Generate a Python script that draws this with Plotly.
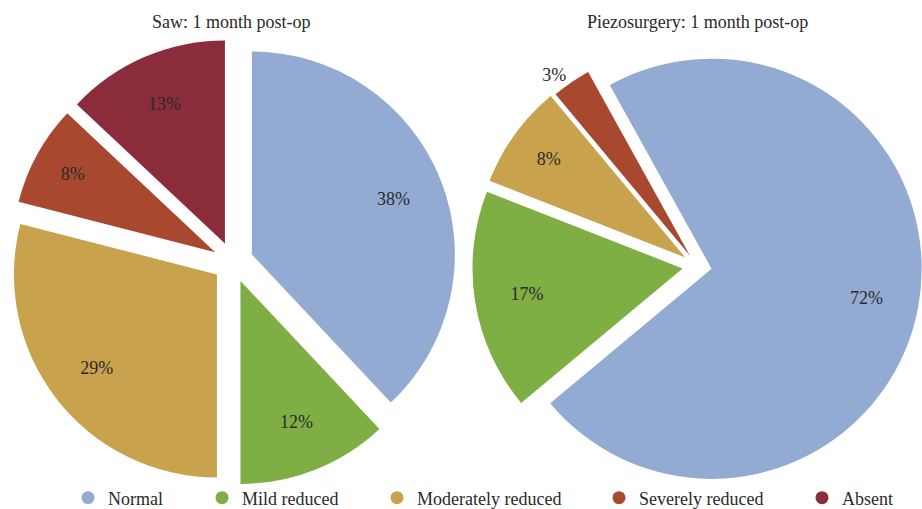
import plotly.graph_objects as go

categories = ["Normal", "Mild reduced", "Moderately reduced", "Severely reduced", "Absent"]
saw_values = [38, 12, 29, 8, 13]
piezo_values = [72, 17, 8, 3, 0]
colors = ["#93abd3", "#7fae45", "#c9a24e", "#a8492f", "#8b2c3c"]
titles = ["Saw: 1 month post-op", "Piezosurgery: 1 month post-op"]

W, H = 922, 509
FONT = "Liberation Serif, Times New Roman, serif"
TXT = "#2a2a2a"

saw_pull = [0.1] * 5
piezo_pull = [0.07, 0.07, 0.07, 0.06, 0.0]
saw_domain = dict(x=[0.0105, 0.4949], y=[0.0465, 0.9239])
piezo_domain = dict(x=[0.5122, 1.0], y=[0.0356, 0.919])
piezo_textpos = ["inside", "inside", "inside", "outside", "inside"]

fig = go.Figure()

for vals, pull, dom, rot, tpos in [
    (saw_values, saw_pull, saw_domain, 0, "inside"),
    (piezo_values, piezo_pull, piezo_domain, -29, piezo_textpos),
]:
    # coloured slices
    fig.add_trace(go.Pie(
        labels=categories, values=vals, sort=False, direction="clockwise",
        rotation=rot, pull=pull,
        marker=dict(colors=colors, line=dict(width=0)),
        textinfo="none", domain=dom,
        showlegend=False, hoverinfo="label+value",
    ))
    # transparent ring on top that carries the percentage labels
    fig.add_trace(go.Pie(
        labels=categories, values=vals, sort=False, direction="clockwise",
        rotation=rot, pull=pull, hole=0.5,
        marker=dict(colors=["rgba(0,0,0,0)"] * 5, line=dict(width=0)),
        texttemplate="%{value}%", textposition=tpos,
        insidetextorientation="horizontal",
        textfont=dict(family=FONT, size=18, color=TXT),
        domain=dom, showlegend=False, hoverinfo="skip",
    ))

# legend entries (one legend per entry to reproduce spacing)
legend_marker_x = [88, 222, 397, 619, 822]
for i, (name, col) in enumerate(zip(categories, colors)):
    lname = "legend" if i == 0 else f"legend{i + 1}"
    fig.add_trace(go.Scatter(
        x=[None], y=[None], mode="markers", name=name,
        marker=dict(color=col, size=13, symbol="circle"),
        showlegend=True, legend=lname, hoverinfo="skip",
    ))
    fig.update_layout(**{lname: dict(
        x=(legend_marker_x[i] - 20) / W, xanchor="left",
        y=11 / H, yanchor="middle", orientation="h",
        bgcolor="rgba(0,0,0,0)", font=dict(family=FONT, size=18, color=TXT),
    )})

for t, cx in zip(titles, [231, 697]):
    fig.add_annotation(text=t, x=cx / W, y=1 - 22 / H, xref="paper", yref="paper",
                       showarrow=False, xanchor="center", yanchor="middle",
                       font=dict(family=FONT, size=18, color=TXT))

fig.update_layout(
    width=W, height=H, margin=dict(l=0, r=0, t=0, b=0, autoexpand=False),
    paper_bgcolor="white", plot_bgcolor="white",
    xaxis=dict(visible=False), yaxis=dict(visible=False),
)

fig.write_html("out.html", config={"displayModeBar": False},
               post_script="document.body.style.margin='0';document.body.style.overflow='hidden';")
